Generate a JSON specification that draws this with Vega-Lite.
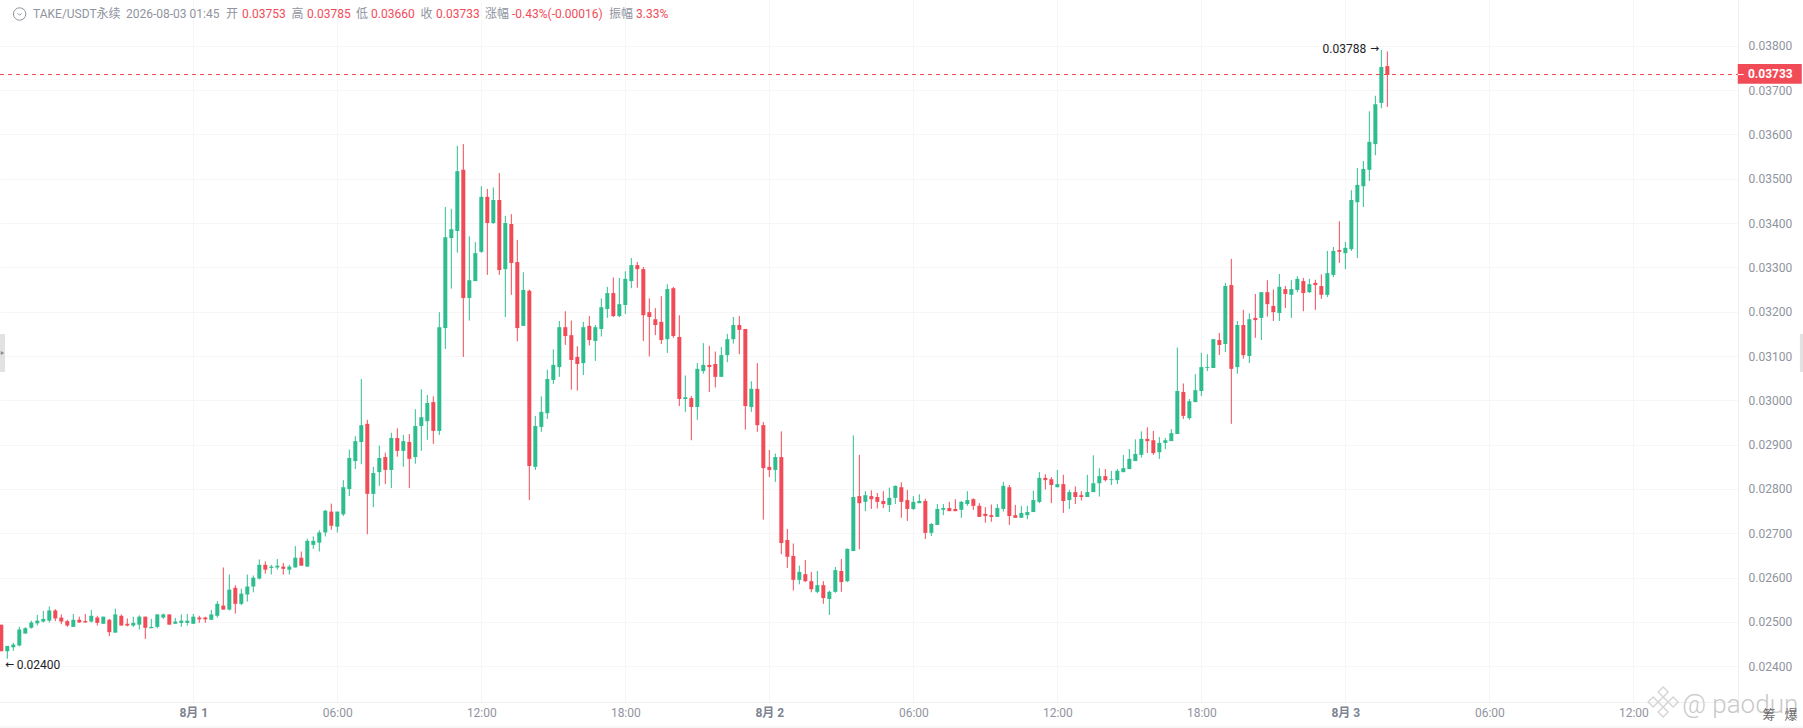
{
  "$schema": "https://vega.github.io/schema/vega-lite/v6.json",
  "description": "TAKE/USDT perpetual 15m candles",
  "width": 1738,
  "height": 702,
  "autosize": "none",
  "padding": {"left": 0, "top": 0, "right": 65, "bottom": 26},
  "background": "#ffffff",
  "config": {"view": {"stroke": null}, "font": "Roboto, Noto Sans CJK SC", "text": {"font": "Roboto, Noto Sans CJK SC"}},
  "datasets": {
    "candles": [
      {"t":"2026-07-31T16:00Z","o":0.02494,"h":0.02494,"l":0.02434,"c":0.02434},
      {"t":"2026-07-31T16:15Z","o":0.02434,"h":0.02446,"l":0.02417,"c":0.02446},
      {"t":"2026-07-31T16:30Z","o":0.02443,"h":0.02453,"l":0.02435,"c":0.02449},
      {"t":"2026-07-31T16:45Z","o":0.02447,"h":0.02489,"l":0.02445,"c":0.02483},
      {"t":"2026-07-31T17:00Z","o":0.02474,"h":0.02488,"l":0.02474,"c":0.02486},
      {"t":"2026-07-31T17:15Z","o":0.02487,"h":0.02503,"l":0.02485,"c":0.02499},
      {"t":"2026-07-31T17:30Z","o":0.02497,"h":0.02516,"l":0.02492,"c":0.02503},
      {"t":"2026-07-31T17:45Z","o":0.02501,"h":0.02525,"l":0.02499,"c":0.02507},
      {"t":"2026-07-31T18:00Z","o":0.02503,"h":0.02535,"l":0.02499,"c":0.02526},
      {"t":"2026-07-31T18:15Z","o":0.02526,"h":0.02529,"l":0.02502,"c":0.02508},
      {"t":"2026-07-31T18:30Z","o":0.0251,"h":0.02517,"l":0.02495,"c":0.02501},
      {"t":"2026-07-31T18:45Z","o":0.02502,"h":0.02505,"l":0.02489,"c":0.02492},
      {"t":"2026-07-31T19:00Z","o":0.02489,"h":0.02518,"l":0.02489,"c":0.02505},
      {"t":"2026-07-31T19:15Z","o":0.02505,"h":0.02512,"l":0.02498,"c":0.02499},
      {"t":"2026-07-31T19:30Z","o":0.02502,"h":0.02518,"l":0.02498,"c":0.02499},
      {"t":"2026-07-31T19:45Z","o":0.02501,"h":0.02527,"l":0.02499,"c":0.02514},
      {"t":"2026-07-31T20:00Z","o":0.0251,"h":0.02514,"l":0.02492,"c":0.02498},
      {"t":"2026-07-31T20:15Z","o":0.02496,"h":0.02512,"l":0.02496,"c":0.02512},
      {"t":"2026-07-31T20:30Z","o":0.02505,"h":0.02507,"l":0.02468,"c":0.02477},
      {"t":"2026-07-31T20:45Z","o":0.02476,"h":0.0253,"l":0.02476,"c":0.02517},
      {"t":"2026-07-31T21:00Z","o":0.02514,"h":0.02517,"l":0.02492,"c":0.02492},
      {"t":"2026-07-31T21:15Z","o":0.02496,"h":0.02508,"l":0.0249,"c":0.02492},
      {"t":"2026-07-31T21:30Z","o":0.02492,"h":0.02512,"l":0.02489,"c":0.02498},
      {"t":"2026-07-31T21:45Z","o":0.02494,"h":0.02515,"l":0.02483,"c":0.02512},
      {"t":"2026-07-31T22:00Z","o":0.02512,"h":0.02512,"l":0.02462,"c":0.02487},
      {"t":"2026-07-31T22:15Z","o":0.02486,"h":0.02507,"l":0.02486,"c":0.02489},
      {"t":"2026-07-31T22:30Z","o":0.02489,"h":0.02518,"l":0.02486,"c":0.02517},
      {"t":"2026-07-31T22:45Z","o":0.0251,"h":0.02519,"l":0.02507,"c":0.02517},
      {"t":"2026-07-31T23:00Z","o":0.02517,"h":0.02517,"l":0.02494,"c":0.02494},
      {"t":"2026-07-31T23:15Z","o":0.02496,"h":0.02509,"l":0.02496,"c":0.02501},
      {"t":"2026-07-31T23:30Z","o":0.02498,"h":0.02517,"l":0.02489,"c":0.02503},
      {"t":"2026-07-31T23:45Z","o":0.02498,"h":0.02518,"l":0.02492,"c":0.02503},
      {"t":"2026-08-01T00:00Z","o":0.02496,"h":0.02518,"l":0.02496,"c":0.02512},
      {"t":"2026-08-01T00:15Z","o":0.0251,"h":0.02514,"l":0.02498,"c":0.02506},
      {"t":"2026-08-01T00:30Z","o":0.0251,"h":0.02512,"l":0.02498,"c":0.02506},
      {"t":"2026-08-01T00:45Z","o":0.02505,"h":0.02527,"l":0.02505,"c":0.02517},
      {"t":"2026-08-01T01:00Z","o":0.02514,"h":0.02547,"l":0.0251,"c":0.02541},
      {"t":"2026-08-01T01:15Z","o":0.02537,"h":0.02623,"l":0.02528,"c":0.02528},
      {"t":"2026-08-01T01:30Z","o":0.02528,"h":0.02607,"l":0.02526,"c":0.02573},
      {"t":"2026-08-01T01:45Z","o":0.02577,"h":0.02583,"l":0.02519,"c":0.02541},
      {"t":"2026-08-01T02:00Z","o":0.02541,"h":0.02575,"l":0.02538,"c":0.02564},
      {"t":"2026-08-01T02:15Z","o":0.02562,"h":0.02607,"l":0.02546,"c":0.0258},
      {"t":"2026-08-01T02:30Z","o":0.0258,"h":0.02605,"l":0.02567,"c":0.026},
      {"t":"2026-08-01T02:45Z","o":0.02598,"h":0.02641,"l":0.02596,"c":0.02629},
      {"t":"2026-08-01T03:00Z","o":0.02629,"h":0.02637,"l":0.02609,"c":0.02618},
      {"t":"2026-08-01T03:15Z","o":0.02622,"h":0.02629,"l":0.02607,"c":0.02625},
      {"t":"2026-08-01T03:30Z","o":0.02623,"h":0.02642,"l":0.02618,"c":0.02627},
      {"t":"2026-08-01T03:45Z","o":0.02625,"h":0.02633,"l":0.02607,"c":0.0262},
      {"t":"2026-08-01T04:00Z","o":0.02618,"h":0.02629,"l":0.02607,"c":0.02625},
      {"t":"2026-08-01T04:15Z","o":0.02623,"h":0.02671,"l":0.02623,"c":0.02645},
      {"t":"2026-08-01T04:30Z","o":0.02645,"h":0.02659,"l":0.02627,"c":0.02627},
      {"t":"2026-08-01T04:45Z","o":0.02625,"h":0.02688,"l":0.02625,"c":0.02683},
      {"t":"2026-08-01T05:00Z","o":0.02674,"h":0.02693,"l":0.02665,"c":0.02683},
      {"t":"2026-08-01T05:15Z","o":0.02679,"h":0.02707,"l":0.02659,"c":0.02702},
      {"t":"2026-08-01T05:30Z","o":0.02702,"h":0.02753,"l":0.02693,"c":0.02751},
      {"t":"2026-08-01T05:45Z","o":0.02749,"h":0.02767,"l":0.02708,"c":0.02717},
      {"t":"2026-08-01T06:00Z","o":0.02715,"h":0.02749,"l":0.02702,"c":0.02749},
      {"t":"2026-08-01T06:15Z","o":0.02743,"h":0.0282,"l":0.02739,"c":0.02804},
      {"t":"2026-08-01T06:30Z","o":0.028,"h":0.02889,"l":0.02784,"c":0.0287},
      {"t":"2026-08-01T06:45Z","o":0.02863,"h":0.02919,"l":0.02845,"c":0.02908},
      {"t":"2026-08-01T07:00Z","o":0.02906,"h":0.03048,"l":0.02856,"c":0.02944},
      {"t":"2026-08-01T07:15Z","o":0.02947,"h":0.02956,"l":0.02698,"c":0.02789},
      {"t":"2026-08-01T07:30Z","o":0.02789,"h":0.0285,"l":0.02759,"c":0.02836},
      {"t":"2026-08-01T07:45Z","o":0.02838,"h":0.02898,"l":0.02807,"c":0.0287},
      {"t":"2026-08-01T08:00Z","o":0.02872,"h":0.02882,"l":0.02811,"c":0.02843},
      {"t":"2026-08-01T08:15Z","o":0.02843,"h":0.02927,"l":0.02802,"c":0.02915},
      {"t":"2026-08-01T08:30Z","o":0.02915,"h":0.02937,"l":0.02873,"c":0.02886},
      {"t":"2026-08-01T08:45Z","o":0.02886,"h":0.02922,"l":0.0285,"c":0.02908},
      {"t":"2026-08-01T09:00Z","o":0.02906,"h":0.02924,"l":0.02802,"c":0.02868},
      {"t":"2026-08-01T09:15Z","o":0.02872,"h":0.0298,"l":0.02857,"c":0.02942},
      {"t":"2026-08-01T09:30Z","o":0.02942,"h":0.03025,"l":0.02886,"c":0.02962},
      {"t":"2026-08-01T09:45Z","o":0.02953,"h":0.03012,"l":0.02911,"c":0.02994},
      {"t":"2026-08-01T10:00Z","o":0.02996,"h":0.03009,"l":0.02902,"c":0.02931},
      {"t":"2026-08-01T10:15Z","o":0.02931,"h":0.03199,"l":0.02922,"c":0.03165},
      {"t":"2026-08-01T10:30Z","o":0.03163,"h":0.03436,"l":0.03116,"c":0.03368},
      {"t":"2026-08-01T10:45Z","o":0.03366,"h":0.03432,"l":0.03252,"c":0.03386},
      {"t":"2026-08-01T11:00Z","o":0.03382,"h":0.03574,"l":0.03333,"c":0.03517},
      {"t":"2026-08-01T11:15Z","o":0.0352,"h":0.03578,"l":0.03098,"c":0.03231},
      {"t":"2026-08-01T11:30Z","o":0.03231,"h":0.0337,"l":0.0318,"c":0.03271},
      {"t":"2026-08-01T11:45Z","o":0.03269,"h":0.03357,"l":0.03269,"c":0.03332},
      {"t":"2026-08-01T12:00Z","o":0.03335,"h":0.03483,"l":0.03333,"c":0.03459},
      {"t":"2026-08-01T12:15Z","o":0.03459,"h":0.03477,"l":0.03283,"c":0.034},
      {"t":"2026-08-01T12:30Z","o":0.034,"h":0.0348,"l":0.03398,"c":0.03452},
      {"t":"2026-08-01T12:45Z","o":0.03452,"h":0.03513,"l":0.03283,"c":0.03294},
      {"t":"2026-08-01T13:00Z","o":0.03296,"h":0.03416,"l":0.03188,"c":0.034},
      {"t":"2026-08-01T13:15Z","o":0.03398,"h":0.0342,"l":0.03238,"c":0.0331},
      {"t":"2026-08-01T13:30Z","o":0.03312,"h":0.03362,"l":0.03133,"c":0.03163},
      {"t":"2026-08-01T13:45Z","o":0.03168,"h":0.03289,"l":0.03168,"c":0.03249},
      {"t":"2026-08-01T14:00Z","o":0.03247,"h":0.0325,"l":0.02775,"c":0.02852},
      {"t":"2026-08-01T14:15Z","o":0.0285,"h":0.02965,"l":0.02843,"c":0.02942},
      {"t":"2026-08-01T14:30Z","o":0.0294,"h":0.03009,"l":0.02929,"c":0.02974},
      {"t":"2026-08-01T14:45Z","o":0.02971,"h":0.03069,"l":0.02958,"c":0.03048},
      {"t":"2026-08-01T15:00Z","o":0.03046,"h":0.03115,"l":0.03037,"c":0.0308},
      {"t":"2026-08-01T15:15Z","o":0.03075,"h":0.03179,"l":0.03053,"c":0.03165},
      {"t":"2026-08-01T15:30Z","o":0.03165,"h":0.03201,"l":0.03125,"c":0.03145},
      {"t":"2026-08-01T15:45Z","o":0.03147,"h":0.0318,"l":0.03024,"c":0.03091},
      {"t":"2026-08-01T16:00Z","o":0.03098,"h":0.03122,"l":0.03022,"c":0.03082},
      {"t":"2026-08-01T16:15Z","o":0.03084,"h":0.03177,"l":0.03057,"c":0.03165},
      {"t":"2026-08-01T16:30Z","o":0.03168,"h":0.0319,"l":0.03124,"c":0.03136},
      {"t":"2026-08-01T16:45Z","o":0.03134,"h":0.0317,"l":0.03089,"c":0.03165},
      {"t":"2026-08-01T17:00Z","o":0.03161,"h":0.0323,"l":0.03144,"c":0.0321},
      {"t":"2026-08-01T17:15Z","o":0.03206,"h":0.03256,"l":0.03186,"c":0.03242},
      {"t":"2026-08-01T17:30Z","o":0.03242,"h":0.03277,"l":0.03188,"c":0.0319},
      {"t":"2026-08-01T17:45Z","o":0.0319,"h":0.03276,"l":0.03188,"c":0.03217},
      {"t":"2026-08-01T18:00Z","o":0.03215,"h":0.03291,"l":0.03195,"c":0.03274},
      {"t":"2026-08-01T18:15Z","o":0.03269,"h":0.03321,"l":0.03253,"c":0.03305},
      {"t":"2026-08-01T18:30Z","o":0.03305,"h":0.03312,"l":0.03254,"c":0.03296},
      {"t":"2026-08-01T18:45Z","o":0.03296,"h":0.03301,"l":0.03134,"c":0.03192},
      {"t":"2026-08-01T19:00Z","o":0.03199,"h":0.0323,"l":0.03099,"c":0.03188},
      {"t":"2026-08-01T19:15Z","o":0.03183,"h":0.03208,"l":0.03147,"c":0.0317},
      {"t":"2026-08-01T19:30Z","o":0.03177,"h":0.03235,"l":0.03127,"c":0.03136},
      {"t":"2026-08-01T19:45Z","o":0.03138,"h":0.03262,"l":0.03107,"c":0.03251},
      {"t":"2026-08-01T20:00Z","o":0.03253,"h":0.03256,"l":0.03141,"c":0.03145},
      {"t":"2026-08-01T20:15Z","o":0.03143,"h":0.03192,"l":0.02987,"c":0.03003},
      {"t":"2026-08-01T20:30Z","o":0.03003,"h":0.03056,"l":0.02974,"c":0.03007},
      {"t":"2026-08-01T20:45Z","o":0.03005,"h":0.0301,"l":0.0291,"c":0.02985},
      {"t":"2026-08-01T21:00Z","o":0.02985,"h":0.03084,"l":0.02956,"c":0.03071},
      {"t":"2026-08-01T21:15Z","o":0.03066,"h":0.03129,"l":0.0306,"c":0.0308},
      {"t":"2026-08-01T21:30Z","o":0.0308,"h":0.03123,"l":0.03019,"c":0.03075},
      {"t":"2026-08-01T21:45Z","o":0.03082,"h":0.0311,"l":0.03029,"c":0.03053},
      {"t":"2026-08-01T22:00Z","o":0.03053,"h":0.0312,"l":0.03053,"c":0.03102},
      {"t":"2026-08-01T22:15Z","o":0.03102,"h":0.0315,"l":0.03086,"c":0.03138},
      {"t":"2026-08-01T22:30Z","o":0.03138,"h":0.03188,"l":0.03128,"c":0.0317},
      {"t":"2026-08-01T22:45Z","o":0.0317,"h":0.0319,"l":0.03104,"c":0.03159},
      {"t":"2026-08-01T23:00Z","o":0.03161,"h":0.03161,"l":0.02934,"c":0.02987},
      {"t":"2026-08-01T23:15Z","o":0.02985,"h":0.03043,"l":0.02974,"c":0.03026},
      {"t":"2026-08-01T23:30Z","o":0.03026,"h":0.03084,"l":0.02929,"c":0.02944},
      {"t":"2026-08-01T23:45Z","o":0.02944,"h":0.02951,"l":0.02731,"c":0.02847},
      {"t":"2026-08-02T00:00Z","o":0.0285,"h":0.02888,"l":0.02827,"c":0.02843},
      {"t":"2026-08-02T00:15Z","o":0.02843,"h":0.0288,"l":0.02816,"c":0.02872},
      {"t":"2026-08-02T00:30Z","o":0.02872,"h":0.0293,"l":0.02653,"c":0.02678},
      {"t":"2026-08-02T00:45Z","o":0.02685,"h":0.0271,"l":0.02622,"c":0.02647},
      {"t":"2026-08-02T01:00Z","o":0.02649,"h":0.02677,"l":0.02571,"c":0.02595},
      {"t":"2026-08-02T01:15Z","o":0.02595,"h":0.02627,"l":0.02585,"c":0.02613},
      {"t":"2026-08-02T01:30Z","o":0.02608,"h":0.0264,"l":0.0259,"c":0.02592},
      {"t":"2026-08-02T01:45Z","o":0.02592,"h":0.02613,"l":0.02567,"c":0.02574},
      {"t":"2026-08-02T02:00Z","o":0.02568,"h":0.02615,"l":0.02565,"c":0.02583},
      {"t":"2026-08-02T02:15Z","o":0.02583,"h":0.02592,"l":0.02541,"c":0.02554},
      {"t":"2026-08-02T02:30Z","o":0.02552,"h":0.02571,"l":0.02516,"c":0.02568},
      {"t":"2026-08-02T02:45Z","o":0.02568,"h":0.02624,"l":0.02566,"c":0.02617},
      {"t":"2026-08-02T03:00Z","o":0.02615,"h":0.02642,"l":0.02568,"c":0.0259},
      {"t":"2026-08-02T03:15Z","o":0.02592,"h":0.02666,"l":0.0259,"c":0.02665},
      {"t":"2026-08-02T03:30Z","o":0.0266,"h":0.02921,"l":0.0266,"c":0.02782},
      {"t":"2026-08-02T03:45Z","o":0.02784,"h":0.02877,"l":0.02664,"c":0.02768},
      {"t":"2026-08-02T04:00Z","o":0.02771,"h":0.02795,"l":0.0275,"c":0.02786},
      {"t":"2026-08-02T04:15Z","o":0.02784,"h":0.02797,"l":0.02755,"c":0.02777},
      {"t":"2026-08-02T04:30Z","o":0.02782,"h":0.02791,"l":0.02756,"c":0.02771},
      {"t":"2026-08-02T04:45Z","o":0.02773,"h":0.02795,"l":0.02757,"c":0.02766},
      {"t":"2026-08-02T05:00Z","o":0.02764,"h":0.02803,"l":0.02748,"c":0.0278},
      {"t":"2026-08-02T05:15Z","o":0.0278,"h":0.02808,"l":0.02766,"c":0.02807},
      {"t":"2026-08-02T05:30Z","o":0.02804,"h":0.02815,"l":0.02735,"c":0.02771},
      {"t":"2026-08-02T05:45Z","o":0.02775,"h":0.02798,"l":0.02728,"c":0.02755},
      {"t":"2026-08-02T06:00Z","o":0.02755,"h":0.02784,"l":0.02753,"c":0.02771},
      {"t":"2026-08-02T06:15Z","o":0.02768,"h":0.02788,"l":0.02768,"c":0.02773},
      {"t":"2026-08-02T06:30Z","o":0.02773,"h":0.02778,"l":0.02687,"c":0.02701},
      {"t":"2026-08-02T06:45Z","o":0.02701,"h":0.02723,"l":0.02694,"c":0.02721},
      {"t":"2026-08-02T07:00Z","o":0.02719,"h":0.02766,"l":0.02719,"c":0.02755},
      {"t":"2026-08-02T07:15Z","o":0.02753,"h":0.02766,"l":0.02741,"c":0.02757},
      {"t":"2026-08-02T07:30Z","o":0.02757,"h":0.02771,"l":0.0275,"c":0.0275},
      {"t":"2026-08-02T07:45Z","o":0.02755,"h":0.02777,"l":0.0275,"c":0.0275},
      {"t":"2026-08-02T08:00Z","o":0.02753,"h":0.02773,"l":0.02735,"c":0.02771},
      {"t":"2026-08-02T08:15Z","o":0.02766,"h":0.02795,"l":0.02762,"c":0.02775},
      {"t":"2026-08-02T08:30Z","o":0.02777,"h":0.02779,"l":0.02753,"c":0.02762},
      {"t":"2026-08-02T08:45Z","o":0.02762,"h":0.02768,"l":0.02737,"c":0.02737},
      {"t":"2026-08-02T09:00Z","o":0.02744,"h":0.02759,"l":0.02724,"c":0.02739},
      {"t":"2026-08-02T09:15Z","o":0.02741,"h":0.02765,"l":0.02726,"c":0.02737},
      {"t":"2026-08-02T09:30Z","o":0.02737,"h":0.02766,"l":0.02737,"c":0.02757},
      {"t":"2026-08-02T09:45Z","o":0.02755,"h":0.02816,"l":0.02749,"c":0.02807},
      {"t":"2026-08-02T10:00Z","o":0.02804,"h":0.02809,"l":0.02719,"c":0.02739},
      {"t":"2026-08-02T10:15Z","o":0.02741,"h":0.02764,"l":0.02735,"c":0.02735},
      {"t":"2026-08-02T10:30Z","o":0.02735,"h":0.02762,"l":0.02735,"c":0.02746},
      {"t":"2026-08-02T10:45Z","o":0.02741,"h":0.02762,"l":0.02732,"c":0.02748},
      {"t":"2026-08-02T11:00Z","o":0.02748,"h":0.02796,"l":0.02748,"c":0.02775},
      {"t":"2026-08-02T11:15Z","o":0.02771,"h":0.02838,"l":0.02768,"c":0.02825},
      {"t":"2026-08-02T11:30Z","o":0.02825,"h":0.02833,"l":0.02799,"c":0.0282},
      {"t":"2026-08-02T11:45Z","o":0.02822,"h":0.02827,"l":0.02768,"c":0.02809},
      {"t":"2026-08-02T12:00Z","o":0.02804,"h":0.02843,"l":0.02804,"c":0.02811},
      {"t":"2026-08-02T12:15Z","o":0.02811,"h":0.02832,"l":0.02746,"c":0.02773},
      {"t":"2026-08-02T12:30Z","o":0.02775,"h":0.02798,"l":0.02755,"c":0.02793},
      {"t":"2026-08-02T12:45Z","o":0.02793,"h":0.02806,"l":0.02766,"c":0.02782},
      {"t":"2026-08-02T13:00Z","o":0.02786,"h":0.02795,"l":0.02774,"c":0.02782},
      {"t":"2026-08-02T13:15Z","o":0.02782,"h":0.02832,"l":0.02782,"c":0.02793},
      {"t":"2026-08-02T13:30Z","o":0.02793,"h":0.02876,"l":0.02793,"c":0.02813},
      {"t":"2026-08-02T13:45Z","o":0.02813,"h":0.02847,"l":0.02783,"c":0.02829},
      {"t":"2026-08-02T14:00Z","o":0.02829,"h":0.02845,"l":0.02817,"c":0.0282},
      {"t":"2026-08-02T14:15Z","o":0.0282,"h":0.02841,"l":0.02809,"c":0.02822},
      {"t":"2026-08-02T14:30Z","o":0.0282,"h":0.02845,"l":0.02811,"c":0.02841},
      {"t":"2026-08-02T14:45Z","o":0.02838,"h":0.02877,"l":0.02838,"c":0.02847},
      {"t":"2026-08-02T15:00Z","o":0.02845,"h":0.0289,"l":0.02845,"c":0.02868},
      {"t":"2026-08-02T15:15Z","o":0.02863,"h":0.02912,"l":0.02863,"c":0.02879},
      {"t":"2026-08-02T15:30Z","o":0.02877,"h":0.0293,"l":0.02871,"c":0.02913},
      {"t":"2026-08-02T15:45Z","o":0.02913,"h":0.02939,"l":0.02881,"c":0.02908},
      {"t":"2026-08-02T16:00Z","o":0.0291,"h":0.02931,"l":0.02877,"c":0.02881},
      {"t":"2026-08-02T16:15Z","o":0.02883,"h":0.02917,"l":0.02868,"c":0.02904},
      {"t":"2026-08-02T16:30Z","o":0.02904,"h":0.02915,"l":0.0289,"c":0.0291},
      {"t":"2026-08-02T16:45Z","o":0.02908,"h":0.02935,"l":0.02908,"c":0.02926},
      {"t":"2026-08-02T17:00Z","o":0.02924,"h":0.03119,"l":0.02924,"c":0.03021},
      {"t":"2026-08-02T17:15Z","o":0.03019,"h":0.03038,"l":0.02958,"c":0.02965},
      {"t":"2026-08-02T17:30Z","o":0.0296,"h":0.03003,"l":0.02956,"c":0.02998},
      {"t":"2026-08-02T17:45Z","o":0.02996,"h":0.03059,"l":0.02996,"c":0.03023},
      {"t":"2026-08-02T18:00Z","o":0.03021,"h":0.03107,"l":0.0301,"c":0.03075},
      {"t":"2026-08-02T18:15Z","o":0.03073,"h":0.03104,"l":0.03066,"c":0.03075},
      {"t":"2026-08-02T18:30Z","o":0.03073,"h":0.03138,"l":0.03073,"c":0.03138},
      {"t":"2026-08-02T18:45Z","o":0.03136,"h":0.03152,"l":0.03102,"c":0.03125},
      {"t":"2026-08-02T19:00Z","o":0.03127,"h":0.03265,"l":0.03109,"c":0.03258},
      {"t":"2026-08-02T19:15Z","o":0.0326,"h":0.03319,"l":0.02947,"c":0.03071},
      {"t":"2026-08-02T19:30Z","o":0.03075,"h":0.03179,"l":0.0306,"c":0.0317},
      {"t":"2026-08-02T19:45Z","o":0.0317,"h":0.03204,"l":0.03094,"c":0.03102},
      {"t":"2026-08-02T20:00Z","o":0.031,"h":0.03196,"l":0.03084,"c":0.03183},
      {"t":"2026-08-02T20:15Z","o":0.03186,"h":0.0324,"l":0.03141,"c":0.03181},
      {"t":"2026-08-02T20:30Z","o":0.03186,"h":0.03244,"l":0.03136,"c":0.03244},
      {"t":"2026-08-02T20:45Z","o":0.03244,"h":0.03271,"l":0.03189,"c":0.03217},
      {"t":"2026-08-02T21:00Z","o":0.03213,"h":0.0325,"l":0.03179,"c":0.03199},
      {"t":"2026-08-02T21:15Z","o":0.03197,"h":0.03285,"l":0.03179,"c":0.03256},
      {"t":"2026-08-02T21:30Z","o":0.03251,"h":0.03258,"l":0.03208,"c":0.0324},
      {"t":"2026-08-02T21:45Z","o":0.03238,"h":0.03271,"l":0.03186,"c":0.03251},
      {"t":"2026-08-02T22:00Z","o":0.03249,"h":0.0328,"l":0.03244,"c":0.03274},
      {"t":"2026-08-02T22:15Z","o":0.03269,"h":0.03276,"l":0.03201,"c":0.03242},
      {"t":"2026-08-02T22:30Z","o":0.03244,"h":0.03274,"l":0.03242,"c":0.03262},
      {"t":"2026-08-02T22:45Z","o":0.03265,"h":0.03272,"l":0.03204,"c":0.0326},
      {"t":"2026-08-02T23:00Z","o":0.03258,"h":0.03284,"l":0.03229,"c":0.03238},
      {"t":"2026-08-02T23:15Z","o":0.03238,"h":0.03337,"l":0.03233,"c":0.03287},
      {"t":"2026-08-02T23:30Z","o":0.03283,"h":0.03346,"l":0.03278,"c":0.03337},
      {"t":"2026-08-02T23:45Z","o":0.03339,"h":0.03404,"l":0.0331,"c":0.03335},
      {"t":"2026-08-03T00:00Z","o":0.03332,"h":0.03357,"l":0.03296,"c":0.03344},
      {"t":"2026-08-03T00:15Z","o":0.03341,"h":0.03474,"l":0.03337,"c":0.03452},
      {"t":"2026-08-03T00:30Z","o":0.03447,"h":0.03524,"l":0.03321,"c":0.03486},
      {"t":"2026-08-03T00:45Z","o":0.03483,"h":0.0354,"l":0.03436,"c":0.03522},
      {"t":"2026-08-03T01:00Z","o":0.0352,"h":0.03652,"l":0.03495,"c":0.03583},
      {"t":"2026-08-03T01:15Z","o":0.03578,"h":0.03687,"l":0.03553,"c":0.03668},
      {"t":"2026-08-03T01:30Z","o":0.03671,"h":0.0379,"l":0.03659,"c":0.03752},
      {"t":"2026-08-03T01:45Z","o":0.03754,"h":0.03787,"l":0.03662,"c":0.03734}
    ],
    "header": [
      {"t":"2026-07-31T17:19:15Z","p":0.038715,"label":"TAKE/USDT永续","kind":"label"},
      {"t":"2026-07-31T21:11:45Z","p":0.038715,"label":"2026-08-03 01:45","kind":"label"},
      {"t":"2026-08-01T01:21:45Z","p":0.038715,"label":"开","kind":"label"},
      {"t":"2026-08-01T02:01:45Z","p":0.038715,"label":"0.03753","kind":"value"},
      {"t":"2026-08-01T04:05:30Z","p":0.038715,"label":"高","kind":"label"},
      {"t":"2026-08-01T04:44:15Z","p":0.038715,"label":"0.03785","kind":"value"},
      {"t":"2026-08-01T06:46:45Z","p":0.038715,"label":"低","kind":"label"},
      {"t":"2026-08-01T07:24:15Z","p":0.038715,"label":"0.03660","kind":"value"},
      {"t":"2026-08-01T09:28:00Z","p":0.038715,"label":"收","kind":"label"},
      {"t":"2026-08-01T10:06:45Z","p":0.038715,"label":"0.03733","kind":"value"},
      {"t":"2026-08-01T12:09:15Z","p":0.038715,"label":"涨幅","kind":"label"},
      {"t":"2026-08-01T13:16:45Z","p":0.038715,"label":"-0.43%(-0.00016)","kind":"value"},
      {"t":"2026-08-01T17:19:15Z","p":0.038715,"label":"振幅","kind":"label"},
      {"t":"2026-08-01T18:26:45Z","p":0.038715,"label":"3.33%","kind":"value"}
    ]
  },
  "layer": [
    {
      "data": {"values": [{"t": "2026-08-01T00:00Z", "p": 0.03}]},
      "mark": {"type": "point", "opacity": 0},
      "encoding": {
        "x": {
          "field": "t",
          "type": "temporal",
          "scale": {"type": "utc", "domain": ["2026-07-31T15:56:45Z", "2026-08-03T16:21:36Z"], "padding": 0},
          "title": null,
          "axis": {
            "values": ["2026-08-01T00:00Z","2026-08-01T06:00Z","2026-08-01T12:00Z","2026-08-01T18:00Z","2026-08-02T00:00Z","2026-08-02T06:00Z","2026-08-02T12:00Z","2026-08-02T18:00Z","2026-08-03T00:00Z","2026-08-03T06:00Z","2026-08-03T12:00Z"],
            "labelExpr": "utchours(datum.value)==0 ? '8月 ' + utcdate(datum.value) : utcFormat(datum.value,'%H:%M')",
            "labelFontWeight": {"condition": {"test": "utchours(datum.value)==0", "value": "bold"}, "value": "normal"},
            "labelColor": {"condition": {"test": "utchours(datum.value)==0", "value": "#7d8390"}, "value": "#8f949e"},
            "labelFont": "Roboto, Noto Sans CJK SC",
            "labelFontSize": 12,
            "labelPadding": 5,
            "labelFlush": false,
            "labelOverlap": false,
            "ticks": false,
            "tickSize": 0,
            "grid": true,
            "gridColor": "#f6f6f6",
            "domainColor": "#f0f0f0"
          }
        },
        "y": {
          "field": "p",
          "type": "quantitative",
          "scale": {"domain": [0.023195, 0.039031], "nice": false, "zero": false},
          "title": null,
          "axis": {
            "orient": "right",
            "values": [0.024,0.025,0.026,0.027,0.028,0.029,0.03,0.031,0.032,0.033,0.034,0.035,0.036,0.037,0.038],
            "format": ".5f",
            "labelColor": "#8f949e",
            "labelFont": "Roboto",
            "labelFontSize": 12,
            "labelPadding": 10,
            "labelFlush": false,
            "labelOverlap": false,
            "ticks": false,
            "tickSize": 0,
            "grid": true,
            "gridColor": "#f6f6f6",
            "domainColor": "#f0f0f0"
          }
        }
      }
    },
    {
      "data": {"name": "candles"},
      "mark": {"type": "rule", "strokeWidth": 1, "clip": true},
      "encoding": {
        "x": {"field": "t", "type": "temporal", "title": null},
        "y": {"field": "l", "type": "quantitative", "title": null},
        "y2": {"field": "h"},
        "color": {"condition": {"test": "datum.c >= datum.o", "value": "#2ebd8f"}, "value": "#f24b58"}
      }
    },
    {
      "data": {"name": "candles"},
      "mark": {"type": "bar", "size": 4, "clip": true},
      "encoding": {
        "x": {"field": "t", "type": "temporal", "title": null, "scale": {"padding": 0}},
        "y": {"field": "o", "type": "quantitative", "title": null},
        "y2": {"field": "c"},
        "color": {"condition": {"test": "datum.c >= datum.o", "value": "#2ebd8f"}, "value": "#f24b58"}
      }
    },
    {
      "data": {"values": [{"t": "2026-07-31T15:56:45Z", "t2": "2026-08-03T16:21:36Z", "p": 0.03735}]},
      "mark": {"type": "rule", "stroke": "#f24b58", "strokeWidth": 1, "strokeDash": [4, 4]},
      "encoding": {
        "x": {"field": "t", "type": "temporal", "title": null},
        "x2": {"field": "t2"},
        "y": {"field": "p", "type": "quantitative", "title": null}
      }
    },
    {
      "data": {"values": [{"t": "2026-08-03T16:21:00Z", "t2": "2026-08-03T19:01:00Z", "p": 0.037587, "p2": 0.037143}]},
      "mark": {"type": "rect", "fill": "#f24b58"},
      "encoding": {
        "x": {"field": "t", "type": "temporal", "title": null},
        "x2": {"field": "t2"},
        "y": {"field": "p", "type": "quantitative", "title": null},
        "y2": {"field": "p2"}
      }
    },
    {
      "data": {"values": [{"t": "2026-08-03T16:21:36Z", "t2": "2026-08-03T16:36:00Z", "p": 0.03735}]},
      "mark": {"type": "rule", "stroke": "#ffffff", "strokeWidth": 1},
      "encoding": {
        "x": {"field": "t", "type": "temporal", "title": null},
        "x2": {"field": "t2"},
        "y": {"field": "p", "type": "quantitative", "title": null}
      }
    },
    {
      "data": {"values": [{"t": "2026-08-03T16:46:30Z", "p": 0.037368, "label": "0.03733"}]},
      "mark": {"type": "text", "align": "left", "baseline": "middle", "fontSize": 12, "fontWeight": "bold", "fill": "#ffffff"},
      "encoding": {
        "x": {"field": "t", "type": "temporal", "title": null},
        "y": {"field": "p", "type": "quantitative", "title": null},
        "text": {"field": "label"}
      }
    },
    {
      "data": {"name": "header"},
      "mark": {"type": "text", "align": "left", "baseline": "middle", "fontSize": 12},
      "encoding": {
        "x": {"field": "t", "type": "temporal", "title": null},
        "y": {"field": "p", "type": "quantitative", "title": null},
        "text": {"field": "label"},
        "color": {"field": "kind", "type": "nominal", "scale": {"domain": ["label", "value"], "range": ["#8f949e", "#f24b58"]}, "legend": null}
      }
    },
    {
      "data": {"values": [{"t": "2026-07-31T16:45:47Z", "p": 0.038715}]},
      "mark": {"type": "point", "shape": "circle", "size": 154, "filled": false, "stroke": "#8f949e", "strokeWidth": 1, "opacity": 1},
      "encoding": {
        "x": {"field": "t", "type": "temporal", "title": null},
        "y": {"field": "p", "type": "quantitative", "title": null}
      }
    },
    {
      "data": {"values": [{"t": "2026-07-31T16:45:47Z", "p": 0.038715}]},
      "mark": {"type": "point", "shape": "M-0.4,-0.15L0,0.25L0.4,-0.15", "size": 100, "filled": false, "stroke": "#8f949e", "strokeWidth": 1, "opacity": 1},
      "encoding": {
        "x": {"field": "t", "type": "temporal", "title": null},
        "y": {"field": "p", "type": "quantitative", "title": null}
      }
    },
    {
      "data": {"values": [
        {"t": "2026-08-03T00:52:15Z", "p": 0.037932, "label": "0.03788"}
      ]},
      "mark": {"type": "text", "align": "right", "baseline": "middle", "fontSize": 12, "fill": "#1e2329"},
      "encoding": {
        "x": {"field": "t", "type": "temporal", "title": null},
        "y": {"field": "p", "type": "quantitative", "title": null},
        "text": {"field": "label"}
      }
    },
    {
      "data": {"values": [
        {"t": "2026-07-31T16:38:30Z", "p": 0.02403, "label": "0.02400"}
      ]},
      "mark": {"type": "text", "align": "left", "baseline": "middle", "fontSize": 12, "fill": "#1e2329"},
      "encoding": {
        "x": {"field": "t", "type": "temporal", "title": null},
        "y": {"field": "p", "type": "quantitative", "title": null},
        "text": {"field": "label"}
      }
    },
    {
      "data": {"values": [
        {"t": "2026-08-03T01:14:24Z", "p": 0.037932, "label": "→"},
        {"t": "2026-07-31T16:20:30Z", "p": 0.02403, "label": "←"}
      ]},
      "mark": {"type": "text", "align": "center", "baseline": "middle", "fontSize": 9, "fontWeight": "bold", "fill": "#1e2329"},
      "encoding": {
        "x": {"field": "t", "type": "temporal", "title": null},
        "y": {"field": "p", "type": "quantitative", "title": null},
        "text": {"field": "label"}
      }
    },
    {
      "data": {"values": [
        {"t": "2026-07-31T15:56:45Z", "t2": "2026-07-31T16:09:15Z", "p": 0.031497, "p2": 0.030639},
        {"t": "2026-08-03T18:56:24Z", "t2": "2026-08-03T19:04:15Z", "p": 0.031497, "p2": 0.030639}
      ]},
      "mark": {"type": "rect", "fill": "#e2e2e2"},
      "encoding": {
        "x": {"field": "t", "type": "temporal", "title": null},
        "x2": {"field": "t2"},
        "y": {"field": "p", "type": "quantitative", "title": null},
        "y2": {"field": "p2"}
      }
    },
    {
      "data": {"values": [{"t": "2026-07-31T16:03:00Z", "p": 0.03107}]},
      "mark": {"type": "point", "shape": "triangle-right", "size": 16, "filled": true, "fill": "#8a8a8a", "opacity": 1},
      "encoding": {
        "x": {"field": "t", "type": "temporal", "title": null},
        "y": {"field": "p", "type": "quantitative", "title": null}
      }
    },
    {
      "data": {"values": [{"t": "2026-07-31T15:56:45Z", "t2": "2026-08-03T19:04:15Z", "p": 0.02263}]},
      "mark": {"type": "rule", "stroke": "#efefef", "strokeWidth": 1},
      "encoding": {
        "x": {"field": "t", "type": "temporal", "title": null},
        "x2": {"field": "t2"},
        "y": {"field": "p", "type": "quantitative", "title": null}
      }
    },
    {
      "data": {"values": [
        {"t": "2026-08-03T13:14:30Z", "p": 0.023195},
        {"t": "2026-08-03T12:49:30Z", "p": 0.023195},
        {"t": "2026-08-03T13:39:30Z", "p": 0.023195},
        {"t": "2026-08-03T13:14:30Z", "p": 0.023421},
        {"t": "2026-08-03T13:14:30Z", "p": 0.022969}
      ]},
      "mark": {"type": "point", "shape": "diamond", "size": 100, "filled": false, "stroke": "#d6d6d6", "strokeWidth": 1.5, "opacity": 1},
      "encoding": {
        "x": {"field": "t", "type": "temporal", "title": null},
        "y": {"field": "p", "type": "quantitative", "title": null}
      }
    },
    {
      "data": {"values": [{"t": "2026-08-03T14:02:00Z", "p": 0.023127, "label": "@ paodun"}]},
      "mark": {"type": "text", "align": "left", "baseline": "middle", "fontSize": 26, "fontWeight": 300, "fill": "#c9c9c9"},
      "encoding": {
        "x": {"field": "t", "type": "temporal", "title": null},
        "y": {"field": "p", "type": "quantitative", "title": null},
        "text": {"field": "label"}
      }
    },
    {
      "data": {"values": [
        {"t": "2026-08-03T17:39:00Z", "p": 0.022902, "label": "筹"},
        {"t": "2026-08-03T18:34:00Z", "p": 0.022902, "label": "爆"}
      ]},
      "mark": {"type": "text", "align": "center", "baseline": "middle", "fontSize": 13, "fill": "#6b6b6b"},
      "encoding": {
        "x": {"field": "t", "type": "temporal", "title": null},
        "y": {"field": "p", "type": "quantitative", "title": null},
        "text": {"field": "label"}
      }
    }
  ]
}
